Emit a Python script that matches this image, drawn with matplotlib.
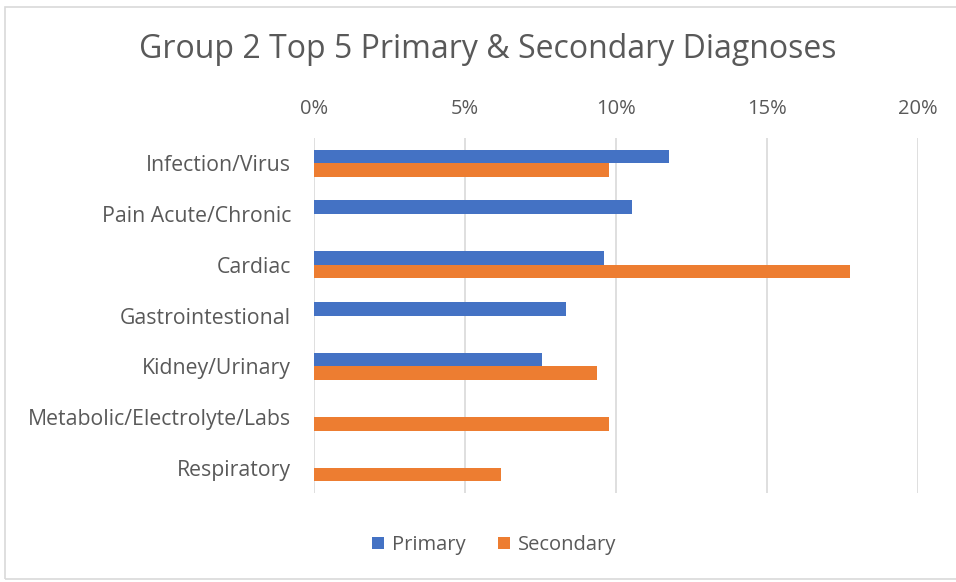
import matplotlib.pyplot as plt
from matplotlib.patches import Rectangle
import numpy as np

plt.rcParams['font.family'] = ['Open Sans', 'DejaVu Sans']

categories = ['Infection/Virus', 'Pain Acute/Chronic', 'Cardiac', 'Gastrointestional',
              'Kidney/Urinary', 'Metabolic/Electrolyte/Labs', 'Respiratory']
primary = [11.77, 10.54, 9.61, 8.34, 7.54, 0, 0]
secondary = [9.78, 0, 17.75, 0, 9.36, 9.78, 6.18]
ticks = [0, 5, 10, 15, 20]

W, H = 956, 582
fig = plt.figure(figsize=(W / 100, H / 100), dpi=100)
ax = fig.add_axes([314 / W, 1 - 493 / H, (918 - 314) / W, (493 - 138) / H])

# chart frame
fig.patches.append(Rectangle((5 / W, 1 - 579 / H), 1.2, (579 - 7) / H, transform=fig.transFigure,
                             fill=False, edgecolor='#D9D9D9', lw=1.2))

y = np.arange(len(categories))
h = 0.27
ax.barh(y - h / 2, primary, height=h, color='#4472C4', label='Primary')
ax.barh(y + h / 2, secondary, height=h, color='#ED7D31', label='Secondary')

ax.set_xlim(0, 20)
ax.set_ylim(len(categories) - 0.5, -0.5)
ax.set_xticks(ticks)
ax.set_xticklabels([f'{t}%' for t in ticks])
ax.xaxis.tick_top()
ax.set_yticks(y)
ax.set_yticklabels(categories)
ax.tick_params(axis='x', length=0, pad=14, labelsize=14.5, labelcolor='#595959')
ax.tick_params(axis='y', length=0, pad=16.5, labelsize=15.3, labelcolor='#595959')
ax.grid(axis='x', color='#D9D9D9', lw=1.2)
ax.set_axisbelow(True)
for s in ax.spines.values():
    s.set_visible(False)

fig.text(488 / W, 1 - 50 / H, 'Group 2 Top 5 Primary & Secondary Diagnoses', ha='center', va='center',
         fontsize=23, color='#595959')
fig.legend(loc='center', bbox_to_anchor=(494 / W, 1 - 545 / H), ncol=2, frameon=False,
           fontsize=14.5, labelcolor='#595959', handlelength=0.6, handleheight=0.6,
           handletextpad=0.4, columnspacing=1.6)

fig.savefig('out.png', dpi=100)
